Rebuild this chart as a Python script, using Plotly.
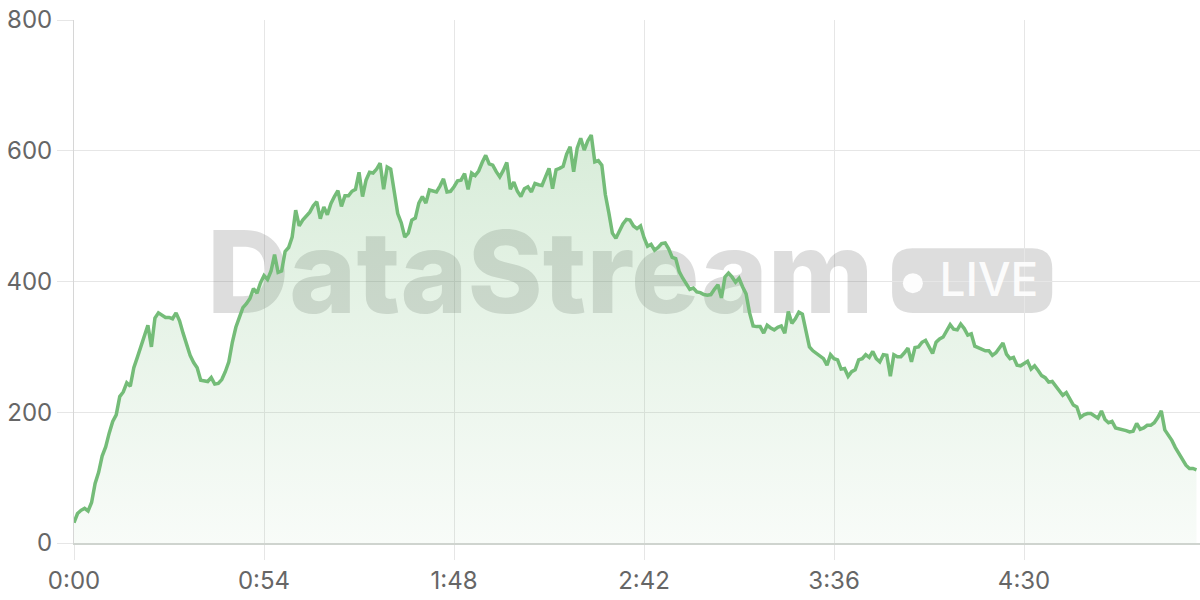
import plotly.graph_objects as go

# ---- data -------------------------------------------------------------
seconds = list(range(320))
values = [
    31, 45, 50, 53, 49, 62, 91, 108, 133, 147,
    168, 186, 196, 224, 231, 245, 240, 268, 284, 300,
    316, 333, 300, 344, 352, 348, 345, 345, 343, 352,
    340, 321, 303, 287, 276, 268, 249, 248, 247, 253,
    243, 244, 250, 262, 277, 307, 330, 345, 360, 366,
    374, 389, 382, 398, 409, 403, 416, 441, 414, 416,
    446, 452, 468, 509, 485, 494, 500, 506, 516, 522,
    496, 514, 502, 519, 530, 539, 515, 531, 531, 538,
    541, 567, 530, 555, 567, 566, 572, 581, 541, 575,
    572, 534, 504, 490, 468, 474, 494, 497, 520, 530,
    520, 540, 539, 537, 546, 557, 537, 538, 545, 554,
    555, 565, 541, 566, 562, 569, 582, 593, 580, 578,
    568, 560, 570, 582, 541, 552, 538, 530, 542, 545,
    537, 550, 548, 547, 560, 573, 542, 571, 573, 576,
    595, 606, 568, 604, 619, 601, 615, 624, 583, 585,
    578, 533, 505, 474, 466, 476, 488, 495, 494, 485,
    481, 485, 467, 454, 457, 448, 452, 458, 459, 450,
    437, 435, 415, 405, 396, 388, 390, 384, 383, 380,
    379, 380, 388, 395, 375, 407, 413, 407, 399, 405,
    392, 381, 352, 332, 331, 331, 321, 333, 329, 326,
    330, 332, 321, 354, 336, 343, 353, 350, 325, 300,
    294, 290, 285, 282, 272, 288, 282, 280, 266, 267,
    255, 262, 265, 280, 282, 288, 284, 293, 282, 277,
    288, 287, 255, 288, 285, 285, 291, 298, 277, 299,
    300, 307, 310, 300, 290, 307, 312, 315, 325, 334,
    327, 326, 335, 328, 318, 320, 301, 299, 297, 294,
    294, 287, 291, 298, 306, 289, 282, 284, 272, 271,
    274, 278, 266, 271, 264, 256, 253, 246, 247, 240,
    233, 226, 230, 220, 211, 208, 192, 196, 198, 198,
    195, 191, 202, 189, 184, 186, 176, 175, 174, 172,
    170, 171, 183, 174, 176, 180, 180, 184, 192, 202,
    173, 165, 157, 146, 137, 127, 119, 114, 114, 112,
]
x_tick_vals = [0, 54, 108, 162, 216, 270]
x_tick_labels = ["0:00", "0:54", "1:48", "2:42", "3:36", "4:30"]
y_tick_vals = [0, 200, 400, 600, 800]
watermark_text = "DataStream"
badge_text = "LIVE"

# ---- styles -----------------------------------------------------------
LINE = "rgb(116,188,120)"
GRID = "#e6e6e6"
TICKFONT = dict(family="Inter, Roboto, sans-serif", size=24, color="#666666")
WM_GRAY = "rgba(95,95,95,0.21)"

fig = go.Figure()

# watermark (drawn first so the area fill sits over it)
fig.add_trace(go.Scatter(
    x=[132.5], y=[396], mode="text", text=[watermark_text],
    textposition="middle center",
    textfont=dict(family="Inter, Roboto, sans-serif", size=114, color=WM_GRAY, weight=800),
    hoverinfo="skip", showlegend=False,
))
fig.add_trace(go.Scatter(
    x=[238.4], y=[397.5], mode="markers",
    marker=dict(size=20, color="rgba(255,255,255,0.92)", line=dict(width=0)),
    hoverinfo="skip", showlegend=False,
))
fig.add_trace(go.Scatter(
    x=[260.0], y=[396], mode="text", text=[badge_text],
    textposition="middle center",
    textfont=dict(family="Inter, Roboto, sans-serif", size=46, color="rgba(255,255,255,0.92)", weight=500),
    hoverinfo="skip", showlegend=False,
))

# main area series
fig.add_trace(go.Scatter(
    x=seconds, y=values, mode="lines",
    line=dict(color=LINE, width=3.5),
    fill="tozeroy",
    fillgradient=dict(
        type="vertical", start=0, stop=624,
        colorscale=[[0, "rgba(116,188,120,0.05)"], [1, "rgba(116,188,120,0.28)"]],
    ),
    hoverinfo="skip", showlegend=False,
))

# badge behind the LIVE label (rounded rectangle, data coords)
bx0, bx1, by0, by1 = 232.5, 278.0, 352.0, 451.0
rx, ry = 5.8, 31.0
badge_path = (
    f"M {bx0+rx},{by1} L {bx1-rx},{by1} Q {bx1},{by1} {bx1},{by1-ry} "
    f"L {bx1},{by0+ry} Q {bx1},{by0} {bx1-rx},{by0} "
    f"L {bx0+rx},{by0} Q {bx0},{by0} {bx0},{by0+ry} "
    f"L {bx0},{by1-ry} Q {bx0},{by1} {bx0+rx},{by1} Z"
)
fig.add_shape(type="path", path=badge_path, xref="x", yref="y",
              fillcolor=WM_GRAY, line=dict(width=0), layer="below")

fig.update_layout(
    width=1200, height=600,
    margin=dict(l=74, r=0, t=20, b=57),
    paper_bgcolor="white", plot_bgcolor="white",
    showlegend=False,
    xaxis=dict(
        range=[0, 320], tickvals=x_tick_vals, ticktext=x_tick_labels,
        showgrid=True, gridcolor=GRID, gridwidth=1,
        ticks="outside", ticklen=15, tickcolor=GRID, tickwidth=1,
        showline=True, linecolor="#cfd4cf", linewidth=2,
        zeroline=False, tickfont=TICKFONT, fixedrange=True,
        automargin=False, ticklabeloverflow="allow",
    ),
    yaxis=dict(
        range=[0, 800], tickvals=y_tick_vals,
        showgrid=True, gridcolor=GRID, gridwidth=1,
        ticks="outside", ticklen=16, tickcolor=GRID, tickwidth=1,
        showline=True, linecolor="#d6d6d6", linewidth=1,
        zeroline=False, tickfont=TICKFONT, fixedrange=True,
        automargin=False, ticklabeloverflow="allow",
    ),
)

fig.write_html(
    "out.html",
    config={"displayModeBar": False, "staticPlot": True},
    post_script="document.body.style.margin='0';document.body.style.overflow='hidden';",
)
